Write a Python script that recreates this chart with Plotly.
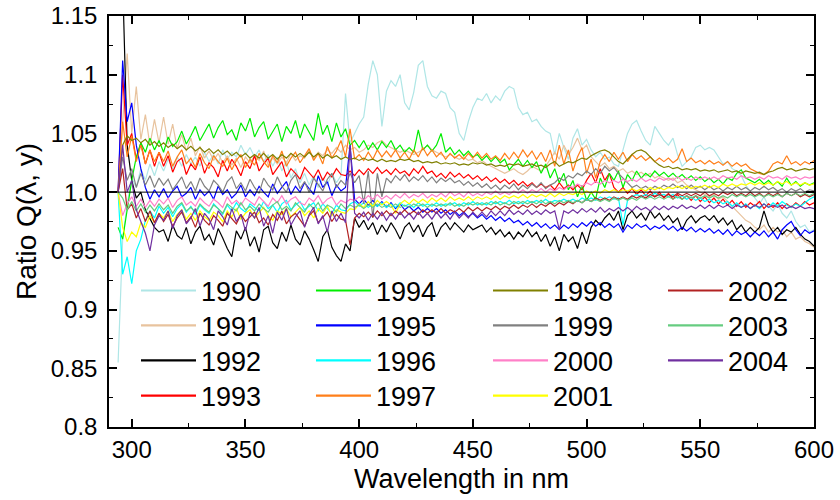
import plotly.graph_objects as go

# Wavelength grid (nm), 2 nm step from 294 to 600
wavelength = list(range(294, 601, 2))

years = ["1990", "1991", "1992", "1993", "1994", "1995", "1996", "1997",
         "1998", "1999", "2000", "2001", "2002", "2003", "2004"]
colors = ["#afe6e6", "#e8c39e", "#000000", "#ff0000", "#00ee00", "#0000ff",
          "#00ffff", "#ff7f1a", "#808000", "#808080", "#ff80c8", "#ffff00",
          "#b22222", "#66cc80", "#7030a0"]

x_tickvals = [300, 350, 400, 450, 500, 550, 600]
x_ticktext = ["300", "350", "400", "450", "500", "550", "600"]
y_tickvals = [0.8, 0.85, 0.9, 0.95, 1.0, 1.05, 1.1, 1.15]
y_ticktext = ["0.8", "0.85", "0.9", "0.95", "1.0", "1.05", "1.1", "1.15"]

q1990 = [0.855, 0.960, 0.990, 1.012, 1.004, 1.020, 1.010, 1.024, 1.014, 1.026,
         1.018, 1.028, 1.020, 1.030, 1.022, 1.032, 1.024, 1.030, 1.022, 1.034,
         1.026, 1.032, 1.024, 1.036, 1.028, 1.034, 1.030, 1.040, 1.032, 1.038,
         1.030, 1.036, 1.026, 1.032, 1.022, 1.030, 1.018, 1.026, 1.012, 1.020,
         1.008, 1.016, 1.006, 1.014, 1.004, 1.012, 1.006, 1.016, 1.008, 1.014,
         1.084, 1.042, 1.050, 1.058, 1.064, 1.092, 1.112, 1.100, 1.056, 1.086,
         1.095, 1.090, 1.100, 1.076, 1.070, 1.085, 1.108, 1.112, 1.090, 1.082,
         1.080, 1.086, 1.084, 1.072, 1.068, 1.050, 1.044, 1.060, 1.072, 1.080,
         1.078, 1.084, 1.076, 1.082, 1.078, 1.086, 1.090, 1.088, 1.072, 1.066,
         1.068, 1.060, 1.062, 1.056, 1.052, 1.050, 1.032, 1.050, 1.038, 1.028,
         1.046, 1.054, 1.040, 1.045, 1.036, 1.030, 1.034, 1.028, 1.030, 1.024,
         1.022, 1.036, 1.050, 1.058, 1.061, 1.052, 1.044, 1.040, 1.056, 1.050,
         1.044, 1.040, 1.046, 1.032, 1.022, 1.026, 1.030, 1.038, 1.040, 1.036,
         1.038, 1.036, 1.030, 1.024, 1.026, 1.020, 1.018, 1.014, 1.006, 1.000,
         0.995, 0.990, 0.996, 0.988, 0.984, 0.990, 0.982, 0.978, 0.984, 0.975,
         0.970, 0.972, 0.966, 0.968]

q1991 = [1.000, 1.060, 1.118, 1.050, 1.090, 1.045, 1.066, 1.040, 1.062, 1.042,
         1.064, 1.041, 1.058, 1.037, 1.049, 1.035, 1.046, 1.031, 1.039, 1.029,
         1.035, 1.027, 1.033, 1.025, 1.031, 1.023, 1.029, 1.021, 1.030, 1.025,
         1.031, 1.027, 1.035, 1.023, 1.029, 1.024, 1.030, 1.025, 1.033, 1.027,
         1.031, 1.029, 1.036, 1.028, 1.034, 1.031, 1.036, 1.033, 1.038, 1.034,
         1.040, 1.036, 1.038, 1.034, 1.036, 1.040, 1.038, 1.042, 1.044, 1.040,
         1.038, 1.036, 1.034, 1.036, 1.034, 1.032, 1.034, 1.036, 1.040, 1.036,
         1.034, 1.032, 1.030, 1.032, 1.030, 1.028, 1.030, 1.027, 1.028, 1.025,
         1.027, 1.024, 1.022, 1.020, 1.018, 1.016, 1.018, 1.020, 1.017, 1.015,
         1.018, 1.022, 1.020, 1.018, 1.022, 1.028, 1.034, 1.028, 1.040, 1.032,
         1.038, 1.046, 1.036, 1.040, 1.030, 1.026, 1.022, 1.025, 1.020, 1.022,
         1.018, 1.020, 1.016, 1.018, 1.015, 1.017, 1.014, 1.016, 1.012, 1.014,
         1.012, 1.010, 1.012, 1.008, 1.010, 1.006, 1.004, 1.002, 1.000, 0.998,
         0.996, 0.998, 0.994, 0.996, 0.992, 0.988, 0.984, 0.980, 0.976, 0.974,
         0.970, 0.968, 0.972, 0.966, 0.970, 0.966, 0.968, 0.962, 0.966, 0.960,
         0.962, 0.958, 0.956, 0.953]

q1992 = [1.200, 1.180, 1.040, 1.010, 0.995, 1.000, 0.985, 0.978, 0.970, 0.966,
         0.968, 0.958, 0.972, 0.963, 0.960, 0.970, 0.956, 0.966, 0.971, 0.959,
         0.964, 0.955, 0.969, 0.961, 0.952, 0.945, 0.967, 0.960, 0.970, 0.954,
         0.962, 0.949, 0.968, 0.971, 0.957, 0.952, 0.966, 0.958, 0.972, 0.960,
         0.955, 0.967, 0.960, 0.951, 0.941, 0.962, 0.968, 0.953, 0.946, 0.941,
         0.956, 0.950, 0.978, 0.970, 0.976, 0.968, 0.974, 0.964, 0.972, 0.966,
         0.974, 0.968, 0.960, 0.970, 0.974, 0.966, 0.972, 0.962, 0.970, 0.974,
         0.962, 0.970, 0.974, 0.968, 0.974, 0.970, 0.966, 0.972, 0.968, 0.970,
         0.972, 0.966, 0.970, 0.964, 0.968, 0.962, 0.966, 0.960, 0.966, 0.962,
         0.968, 0.962, 0.966, 0.958, 0.964, 0.954, 0.962, 0.950, 0.964, 0.958,
         0.962, 0.952, 0.966, 0.956, 0.970, 0.976, 0.972, 0.978, 0.982, 0.976,
         0.984, 0.968, 0.980, 0.984, 0.978, 0.982, 0.976, 0.984, 0.978, 0.982,
         0.976, 0.980, 0.974, 0.978, 0.968, 0.976, 0.980, 0.974, 0.978, 0.980,
         0.976, 0.980, 0.974, 0.978, 0.972, 0.976, 0.968, 0.972, 0.966, 0.970,
         0.966, 0.970, 0.984, 0.972, 0.966, 0.970, 0.964, 0.968, 0.966, 0.970,
         0.964, 0.960, 0.958, 0.954]

q1993 = [1.000, 1.100, 1.040, 1.050, 1.028, 1.042, 1.024, 1.036, 1.022, 1.034,
         1.022, 1.031, 1.017, 1.026, 1.029, 1.015, 1.024, 1.019, 1.030, 1.016,
         1.025, 1.021, 1.013, 1.027, 1.018, 1.028, 1.022, 1.014, 1.026, 1.020,
         1.031, 1.018, 1.024, 1.029, 1.015, 1.021, 1.026, 1.013, 1.020, 1.016,
         1.011, 1.021, 1.016, 1.012, 1.019, 1.010, 1.017, 1.013, 1.020, 1.015,
         1.014, 1.018, 1.014, 1.019, 1.015, 1.020, 1.016, 1.021, 1.016, 1.019,
         1.015, 1.020, 1.016, 1.018, 1.014, 1.020, 1.016, 1.022, 1.016, 1.018,
         1.013, 1.016, 1.012, 1.017, 1.013, 1.016, 1.012, 1.015, 1.011, 1.014,
         1.010, 1.013, 1.009, 1.012, 1.008, 1.011, 1.007, 1.010, 1.006, 1.009,
         1.005, 1.008, 1.004, 1.007, 1.004, 1.006, 1.002, 1.008, 1.003, 1.006,
         1.002, 1.006, 1.002, 1.010, 1.016, 1.008, 1.020, 1.010, 1.016, 1.004,
         1.000, 1.004, 0.999, 1.003, 0.998, 1.002, 0.997, 1.001, 0.996, 1.000,
         0.995, 0.999, 0.994, 0.998, 0.994, 0.997, 0.993, 0.997, 0.992, 0.996,
         0.991, 0.995, 0.990, 0.994, 0.989, 0.993, 0.988, 0.992, 0.987, 0.991,
         0.988, 0.992, 0.986, 0.990, 0.987, 0.991, 0.986, 0.990, 0.987, 0.991,
         0.988, 0.992, 0.989, 0.991]

q1994 = [0.970, 0.960, 0.985, 1.010, 1.030, 1.042, 1.034, 1.046, 1.036, 1.044,
         1.034, 1.047, 1.039, 1.043, 1.052, 1.041, 1.048, 1.056, 1.044, 1.051,
         1.058, 1.046, 1.055, 1.061, 1.049, 1.053, 1.044, 1.059, 1.052, 1.063,
         1.047, 1.055, 1.060, 1.045, 1.052, 1.058, 1.043, 1.056, 1.050, 1.061,
         1.046, 1.058, 1.051, 1.044, 1.067, 1.049, 1.057, 1.043, 1.059, 1.047,
         1.054, 1.040, 1.044, 1.038, 1.044, 1.036, 1.042, 1.036, 1.043, 1.038,
         1.044, 1.036, 1.040, 1.034, 1.038, 1.034, 1.053, 1.036, 1.040, 1.035,
         1.040, 1.050, 1.034, 1.038, 1.032, 1.036, 1.031, 1.035, 1.030, 1.032,
         1.027, 1.031, 1.026, 1.030, 1.025, 1.028, 1.019, 1.024, 1.028, 1.022,
         1.027, 1.021, 1.026, 1.016, 1.024, 1.012, 1.020, 1.008, 1.016, 1.002,
         1.010, 0.996, 1.006, 0.993, 1.000, 0.994, 1.012, 1.004, 1.016, 1.010,
         1.018, 1.004, 1.015, 1.010, 1.018, 1.012, 1.016, 1.013, 1.018, 1.014,
         1.017, 1.013, 1.016, 1.012, 1.015, 1.011, 1.014, 1.010, 1.013, 1.009,
         1.012, 1.008, 1.011, 1.007, 1.012, 1.010, 1.016, 1.019, 1.012, 1.010,
         1.008, 1.011, 1.007, 1.010, 1.006, 1.009, 1.005, 1.012, 1.006, 1.009,
         1.005, 1.008, 1.006, 1.008]

q1995 = [1.000, 1.112, 1.060, 1.076, 1.040, 1.020, 1.004, 0.994, 1.002, 0.996,
         1.003, 0.995, 1.001, 1.005, 0.996, 0.999, 1.004, 0.994, 1.002, 0.997,
         1.001, 0.994, 1.005, 0.998, 1.002, 0.995, 0.999, 1.006, 0.996, 1.002,
         0.997, 1.005, 1.000, 0.996, 1.007, 0.999, 1.004, 1.009, 0.998, 1.005,
         1.000, 1.008, 1.003, 0.998, 1.014, 1.004, 1.009, 0.997, 1.006, 1.001,
         1.004, 1.040, 0.994, 0.990, 0.994, 0.989, 0.993, 0.988, 0.992, 0.987,
         0.991, 0.986, 0.990, 0.985, 0.988, 0.984, 0.987, 0.983, 0.986, 0.983,
         0.986, 0.982, 0.985, 0.981, 0.984, 0.980, 0.983, 0.979, 0.982, 0.978,
         0.981, 0.977, 0.980, 0.976, 0.979, 0.975, 0.978, 0.974, 0.976, 0.972,
         0.975, 0.971, 0.974, 0.970, 0.973, 0.969, 0.972, 0.968, 0.972, 0.969,
         0.973, 0.970, 0.974, 0.971, 0.975, 0.971, 0.974, 0.970, 0.973, 0.970,
         0.973, 0.966, 0.972, 0.969, 0.973, 0.970, 0.972, 0.968, 0.971, 0.969,
         0.972, 0.968, 0.971, 0.967, 0.970, 0.967, 0.970, 0.966, 0.969, 0.966,
         0.969, 0.965, 0.968, 0.964, 0.968, 0.963, 0.967, 0.964, 0.966, 0.962,
         0.966, 0.963, 0.967, 0.962, 0.966, 0.960, 0.968, 0.972, 0.975, 0.968,
         0.963, 0.968, 0.965, 0.967]

q1996 = [1.000, 0.930, 0.945, 0.922, 0.950, 0.960, 0.976, 0.984, 0.978, 0.988,
         0.982, 0.987, 0.979, 0.986, 0.990, 0.983, 0.988, 0.981, 0.989, 0.985,
         0.982, 0.990, 0.986, 0.981, 0.989, 0.984, 0.991, 0.986, 0.983, 0.990,
         0.987, 0.984, 0.992, 0.986, 0.989, 0.983, 0.990, 0.993, 0.985, 0.989,
         0.992, 0.985, 0.988, 0.991, 0.984, 0.990, 0.986, 0.982, 0.989, 0.985,
         0.984, 0.990, 0.992, 0.988, 0.991, 0.987, 0.990, 0.988, 0.991, 0.987,
         0.990, 0.987, 0.991, 0.988, 0.990, 0.987, 0.991, 0.988, 0.990, 0.988,
         0.991, 0.988, 0.990, 0.989, 0.991, 0.988, 0.991, 0.989, 0.992, 0.989,
         0.991, 0.989, 0.992, 0.990, 0.992, 0.990, 0.993, 0.990, 0.992, 0.990,
         0.993, 0.991, 0.993, 0.991, 0.994, 0.991, 0.993, 0.992, 0.994, 0.992,
         0.994, 0.992, 0.995, 0.993, 0.995, 0.993, 0.996, 0.994, 0.996, 0.994,
         0.995, 0.972, 0.993, 0.996, 0.998, 0.996, 0.998, 0.996, 0.999, 0.997,
         0.998, 0.996, 0.998, 0.995, 0.997, 0.994, 0.996, 0.993, 0.995, 0.992,
         0.994, 0.991, 0.993, 0.990, 0.992, 0.988, 0.991, 0.987, 0.990, 0.986,
         0.989, 0.986, 0.990, 0.987, 0.991, 0.988, 0.992, 0.989, 0.987, 0.990,
         0.988, 0.991, 0.994, 0.996]

q1997 = [1.000, 1.060, 1.030, 1.048, 1.026, 1.040, 1.024, 1.036, 1.026, 1.034,
         1.026, 1.035, 1.022, 1.030, 1.036, 1.024, 1.029, 1.021, 1.033, 1.025,
         1.020, 1.031, 1.026, 1.022, 1.029, 1.019, 1.027, 1.032, 1.021, 1.028,
         1.023, 1.033, 1.026, 1.021, 1.031, 1.025, 1.035, 1.022, 1.029, 1.034,
         1.025, 1.031, 1.037, 1.027, 1.033, 1.024, 1.039, 1.029, 1.035, 1.044,
         1.030, 1.054, 1.028, 1.032, 1.027, 1.034, 1.028, 1.036, 1.030, 1.035,
         1.030, 1.036, 1.029, 1.034, 1.028, 1.036, 1.030, 1.038, 1.031, 1.036,
         1.030, 1.034, 1.028, 1.033, 1.029, 1.032, 1.028, 1.033, 1.029, 1.034,
         1.029, 1.033, 1.028, 1.031, 1.027, 1.033, 1.028, 1.034, 1.029, 1.036,
         1.030, 1.035, 1.028, 1.034, 1.026, 1.036, 1.022, 1.040, 1.024, 1.036,
         1.018, 1.030, 1.038, 1.016, 1.028, 1.012, 1.026, 1.032, 1.026, 1.034,
         1.028, 1.034, 1.026, 1.032, 1.028, 1.031, 1.027, 1.030, 1.026, 1.029,
         1.026, 1.029, 1.025, 1.028, 1.037, 1.026, 1.029, 1.025, 1.027, 1.024,
         1.027, 1.024, 1.026, 1.023, 1.026, 1.022, 1.025, 1.022, 1.024, 1.020,
         1.018, 1.016, 1.015, 1.018, 1.024, 1.026, 1.024, 1.031, 1.024, 1.026,
         1.023, 1.026, 1.024, 1.027]

q1998 = [1.000, 1.040, 1.048, 1.044, 1.046, 1.042, 1.045, 1.040, 1.043, 1.039,
         1.042, 1.038, 1.041, 1.037, 1.040, 1.036, 1.039, 1.035, 1.038, 1.034,
         1.037, 1.033, 1.036, 1.032, 1.035, 1.031, 1.034, 1.030, 1.033, 1.029,
         1.032, 1.029, 1.033, 1.029, 1.032, 1.028, 1.032, 1.029, 1.033, 1.030,
         1.033, 1.030, 1.034, 1.030, 1.033, 1.029, 1.032, 1.029, 1.031, 1.028,
         1.030, 1.028, 1.029, 1.027, 1.029, 1.027, 1.028, 1.026, 1.028, 1.026,
         1.027, 1.026, 1.028, 1.027, 1.028, 1.026, 1.027, 1.025, 1.026, 1.025,
         1.026, 1.024, 1.025, 1.024, 1.025, 1.023, 1.024, 1.023, 1.025, 1.024,
         1.025, 1.023, 1.024, 1.022, 1.023, 1.022, 1.024, 1.023, 1.024, 1.022,
         1.023, 1.024, 1.022, 1.023, 1.021, 1.024, 1.026, 1.022, 1.024, 1.026,
         1.025, 1.027, 1.029, 1.028, 1.031, 1.033, 1.035, 1.036, 1.034, 1.030,
         1.026, 1.024, 1.028, 1.032, 1.035, 1.036, 1.034, 1.030, 1.026, 1.023,
         1.021, 1.022, 1.020, 1.021, 1.019, 1.020, 1.019, 1.020, 1.018, 1.019,
         1.018, 1.019, 1.017, 1.018, 1.019, 1.017, 1.018, 1.016, 1.018, 1.017,
         1.016, 1.017, 1.015, 1.017, 1.018, 1.020, 1.021, 1.019, 1.020, 1.018,
         1.019, 1.020, 1.019, 1.020]

q1999 = [1.000, 1.030, 1.010, 1.020, 1.004, 1.016, 1.006, 1.014, 1.004, 1.012,
         1.006, 1.011, 1.002, 1.008, 1.013, 1.003, 1.009, 1.001, 1.012, 1.005,
         1.001, 1.010, 1.006, 1.000, 1.009, 1.013, 1.003, 1.008, 1.001, 1.011,
         1.004, 0.999, 1.012, 1.006, 1.002, 1.013, 1.005, 1.000, 1.010, 1.015,
         1.003, 1.009, 1.000, 1.012, 1.006, 1.001, 1.011, 1.016, 1.004, 1.010,
         1.006, 1.016, 1.008, 1.014, 0.990, 1.018, 0.978, 1.016, 0.996, 1.012,
         1.008, 1.014, 1.010, 1.015, 1.009, 1.013, 1.010, 1.014, 1.009, 1.013,
         1.008, 1.012, 1.009, 1.012, 1.008, 1.010, 1.006, 1.009, 1.005, 1.008,
         1.004, 1.007, 1.003, 1.006, 1.002, 1.006, 1.003, 1.007, 1.002, 1.006,
         1.003, 1.007, 1.004, 1.008, 1.003, 1.006, 1.008, 1.012, 1.010, 1.014,
         1.012, 1.016, 1.014, 1.018, 1.015, 1.020, 1.016, 1.022, 1.018, 1.021,
         1.016, 1.012, 1.008, 1.004, 1.006, 1.003, 1.005, 1.002, 1.005, 1.003,
         1.006, 1.004, 1.007, 1.004, 1.006, 1.003, 1.006, 1.003, 1.005, 1.002,
         1.005, 1.002, 1.004, 1.001, 1.004, 1.002, 1.005, 1.002, 1.004, 1.001,
         1.004, 1.002, 1.005, 1.002, 1.004, 1.001, 1.003, 1.000, 1.003, 1.001,
         1.003, 1.000, 1.002, 1.001]

q2000 = [1.000, 0.980, 0.990, 0.996, 0.988, 0.994, 0.987, 0.993, 0.988, 0.994,
         0.990, 0.995, 0.987, 0.993, 0.996, 0.989, 0.992, 0.988, 0.995, 0.991,
         0.988, 0.994, 0.991, 0.987, 0.996, 0.990, 0.993, 0.989, 0.995, 0.992,
         0.989, 0.996, 0.992, 0.988, 0.995, 0.991, 0.997, 0.990, 0.994, 0.996,
         0.991, 0.989, 0.995, 0.992, 0.997, 0.990, 0.994, 0.996, 0.989, 0.993,
         0.991, 0.994, 0.993, 0.996, 0.993, 0.997, 0.994, 0.998, 0.994, 0.997,
         0.994, 0.998, 0.995, 0.999, 0.995, 0.998, 0.996, 0.999, 0.995, 0.998,
         0.996, 0.999, 0.996, 1.000, 0.997, 0.999, 0.996, 1.000, 0.997, 0.999,
         0.997, 1.000, 0.998, 1.001, 0.998, 1.000, 0.998, 1.001, 0.999, 1.002,
         0.999, 1.002, 1.000, 1.003, 1.000, 1.003, 1.001, 1.004, 1.002, 1.005,
         1.004, 1.007, 1.005, 1.008, 1.006, 1.009, 1.007, 1.010, 1.008, 1.010,
         1.008, 1.011, 1.009, 1.011, 1.009, 1.012, 1.009, 1.011, 1.009, 1.012,
         1.010, 1.012, 1.010, 1.013, 1.010, 1.012, 1.010, 1.013, 1.011, 1.013,
         1.011, 1.013, 1.011, 1.014, 1.012, 1.013, 1.011, 1.014, 1.012, 1.013,
         1.011, 1.013, 1.011, 1.014, 1.012, 1.013, 1.011, 1.014, 1.012, 1.013,
         1.011, 1.013, 1.012, 1.013]

q2001 = [1.000, 0.970, 0.958, 0.966, 0.962, 0.974, 0.970, 0.980, 0.974, 0.982,
         0.978, 0.984, 0.975, 0.981, 0.985, 0.977, 0.982, 0.976, 0.984, 0.979,
         0.976, 0.983, 0.980, 0.975, 0.984, 0.979, 0.986, 0.977, 0.982, 0.985,
         0.978, 0.983, 0.987, 0.980, 0.976, 0.984, 0.981, 0.986, 0.979, 0.983,
         0.987, 0.980, 0.984, 0.978, 0.986, 0.982, 0.988, 0.980, 0.985, 0.983,
         0.982, 0.986, 0.985, 0.990, 0.987, 0.992, 0.988, 0.993, 0.989, 0.992,
         0.989, 0.982, 0.990, 0.993, 0.990, 0.994, 0.991, 0.994, 0.991, 0.995,
         0.992, 0.995, 0.992, 0.996, 0.993, 0.995, 0.993, 0.996, 0.993, 0.996,
         0.994, 0.996, 0.994, 0.997, 0.994, 0.997, 0.995, 0.997, 0.995, 0.998,
         0.995, 0.998, 0.996, 0.998, 0.996, 0.999, 0.996, 0.999, 0.997, 0.999,
         0.998, 1.000, 0.998, 1.001, 0.999, 1.001, 0.999, 1.002, 1.000, 1.002,
         1.000, 1.002, 1.001, 1.003, 1.001, 1.003, 1.001, 1.004, 1.002, 1.004,
         1.002, 1.004, 1.003, 1.005, 1.003, 1.005, 1.003, 1.005, 1.004, 1.006,
         1.004, 1.006, 1.004, 1.007, 1.005, 1.007, 1.005, 1.007, 1.006, 1.008,
         1.006, 1.008, 1.006, 1.008, 1.006, 1.009, 1.007, 1.009, 1.006, 1.008,
         1.006, 1.008, 1.006, 1.007]

q2002 = [1.000, 1.020, 0.985, 0.990, 0.978, 0.986, 0.975, 0.984, 0.974, 0.982,
         0.975, 0.981, 0.971, 0.978, 0.983, 0.974, 0.979, 0.970, 0.982, 0.976,
         0.972, 0.980, 0.976, 0.971, 0.982, 0.977, 0.973, 0.981, 0.975, 0.979,
         0.983, 0.974, 0.978, 0.972, 0.981, 0.976, 0.984, 0.973, 0.979, 0.982,
         0.976, 0.971, 0.980, 0.984, 0.974, 0.979, 0.983, 0.975, 0.981, 0.977,
         0.976, 0.955, 0.978, 0.982, 0.979, 0.983, 0.979, 0.984, 0.980, 0.984,
         0.980, 0.984, 0.981, 0.985, 0.981, 0.984, 0.981, 0.985, 0.982, 0.985,
         0.982, 0.986, 0.982, 0.985, 0.983, 0.986, 0.983, 0.987, 0.984, 0.987,
         0.984, 0.987, 0.985, 0.988, 0.985, 0.988, 0.986, 0.989, 0.986, 0.989,
         0.987, 0.990, 0.987, 0.990, 0.988, 0.991, 0.988, 0.991, 0.989, 0.992,
         0.990, 0.993, 0.991, 0.994, 0.992, 0.995, 0.993, 0.995, 0.993, 0.996,
         0.994, 0.996, 0.994, 0.997, 0.995, 0.997, 0.995, 0.998, 0.996, 0.998,
         0.996, 0.998, 0.996, 0.999, 0.997, 0.999, 0.997, 0.999, 0.997, 1.000,
         0.997, 0.999, 0.997, 1.000, 0.998, 1.000, 0.997, 0.999, 0.997, 1.000,
         0.997, 0.999, 0.996, 0.999, 0.997, 0.999, 0.996, 0.999, 0.997, 0.999,
         0.996, 0.998, 0.996, 0.998]

q2003 = [1.000, 0.995, 0.985, 0.992, 0.984, 0.990, 0.983, 0.989, 0.984, 0.990,
         0.985, 0.989, 0.982, 0.988, 0.991, 0.984, 0.987, 0.983, 0.990, 0.986,
         0.983, 0.989, 0.986, 0.982, 0.990, 0.987, 0.984, 0.991, 0.985, 0.988,
         0.984, 0.990, 0.986, 0.983, 0.989, 0.992, 0.985, 0.988, 0.984, 0.991,
         0.987, 0.983, 0.990, 0.986, 0.991, 0.984, 0.989, 0.987, 0.983, 0.990,
         0.986, 0.989, 0.987, 0.989, 0.986, 0.989, 0.987, 0.990, 0.987, 0.989,
         0.987, 0.990, 0.987, 0.989, 0.987, 0.990, 0.988, 0.990, 0.987, 0.990,
         0.988, 0.990, 0.988, 0.991, 0.988, 0.990, 0.988, 0.991, 0.989, 0.991,
         0.989, 0.991, 0.989, 0.992, 0.989, 0.991, 0.989, 0.992, 0.990, 0.992,
         0.990, 0.992, 0.990, 0.993, 0.990, 0.992, 0.990, 0.993, 0.991, 0.993,
         0.991, 0.993, 0.991, 0.994, 0.992, 0.994, 0.992, 0.994, 0.992, 0.995,
         0.993, 0.995, 0.993, 0.995, 0.993, 0.996, 0.994, 0.996, 0.994, 0.996,
         0.994, 0.996, 0.994, 0.996, 0.994, 0.997, 0.995, 0.997, 0.995, 0.997,
         0.995, 0.997, 0.995, 0.997, 0.995, 0.998, 0.996, 0.998, 0.996, 0.998,
         0.996, 0.998, 0.996, 0.998, 0.996, 0.998, 0.996, 0.999, 0.997, 0.999,
         0.997, 0.999, 0.997, 0.999]

q2004 = [1.000, 1.040, 1.000, 1.010, 0.985, 0.975, 0.965, 0.950, 0.972, 0.980,
         0.976, 0.984, 0.969, 0.980, 0.985, 0.973, 0.978, 0.986, 0.971, 0.982,
         0.977, 0.968, 0.984, 0.979, 0.972, 0.986, 0.975, 0.981, 0.967, 0.983,
         0.978, 0.987, 0.971, 0.980, 0.965, 0.983, 0.976, 0.986, 0.972, 0.979,
         0.984, 0.970, 0.981, 0.987, 0.973, 0.980, 0.966, 0.984, 0.975, 0.982,
         0.974, 1.040, 0.982, 0.978, 0.983, 0.976, 0.982, 0.977, 0.983, 0.976,
         0.982, 0.977, 0.983, 0.978, 0.982, 0.977, 0.983, 0.978, 0.982, 0.977,
         0.983, 0.978, 0.982, 0.977, 0.983, 0.978, 0.982, 0.978, 0.983, 0.979,
         0.983, 0.979, 0.984, 0.980, 0.984, 0.980, 0.985, 0.981, 0.984, 0.981,
         0.985, 0.981, 0.984, 0.981, 0.985, 0.982, 0.984, 0.968, 0.984, 0.982,
         0.985, 0.982, 0.986, 0.983, 0.986, 0.983, 0.987, 0.983, 0.986, 0.984,
         0.987, 0.984, 0.987, 0.984, 0.988, 0.985, 0.987, 0.984, 0.988, 0.985,
         0.988, 0.985, 0.988, 0.986, 0.989, 0.986, 0.988, 0.986, 0.989, 0.986,
         0.989, 0.986, 0.989, 0.987, 0.989, 0.986, 0.989, 0.987, 0.989, 0.986,
         0.989, 0.987, 0.990, 0.987, 0.989, 0.987, 0.989, 0.986, 0.988, 0.986,
         0.988, 0.986, 0.987, 0.986]

series = [q1990, q1991, q1992, q1993, q1994, q1995, q1996, q1997,
          q1998, q1999, q2000, q2001, q2002, q2003, q2004]
for name, s in zip(years, series):
    assert len(s) == len(wavelength), (name, len(s), len(wavelength))

FONT = "Liberation Sans, Arial, sans-serif"

fig = go.Figure()
# data curves
for name, s, c in zip(years, series, colors):
    fig.add_trace(go.Scatter(
        x=wavelength, y=s, mode="lines", name=name,
        line=dict(color=c, width=1.2), showlegend=False,
    ))

# legend: 4 columns x 4 rows (column-major), one small legend per entry
col_x = [0.0383, 0.2865, 0.5376, 0.7858]
row_y = [0.331, 0.246, 0.161, 0.075]
legend_layout = {}
for i, (name, c) in enumerate(zip(years, colors)):
    lid = "legend" if i == 0 else "legend%d" % (i + 1)
    fig.add_trace(go.Scatter(
        x=[None], y=[None], mode="lines", name=name,
        line=dict(color=c, width=2.2), showlegend=True,
        legend=lid, hoverinfo="skip",
    ))
    legend_layout[lid] = dict(
        font=dict(family=FONT, size=27, color="black"),
        bgcolor="rgba(0,0,0,0)", borderwidth=0,
        orientation="v", xanchor="left", yanchor="middle",
        x=col_x[i // 4], y=row_y[i % 4], itemwidth=55,
    )

fig.add_shape(type="line", xref="paper", yref="y", x0=0, x1=1, y0=1.0, y1=1.0,
              line=dict(color="black", width=1), layer="above")

fig.add_annotation(text="Wavelength in nm", xref="paper", yref="paper",
                   x=0.5, y=-0.127, xanchor="center", yanchor="middle",
                   showarrow=False, font=dict(family=FONT, size=27, color="black"))

fig.update_layout(
    width=840, height=500,
    margin=dict(l=109, r=26, t=16, b=73),
    paper_bgcolor="white", plot_bgcolor="white",
    font=dict(family=FONT, size=24, color="black"),
    showlegend=True,
    **legend_layout,
    xaxis=dict(
        range=[290, 600], tickvals=x_tickvals, ticktext=x_ticktext,
        automargin=False,
        showline=True, linecolor="black", linewidth=1.5, mirror="allticks",
        ticks="inside", ticklen=8, tickwidth=1.5, tickcolor="black",
        minor=dict(dtick=25, tick0=300, ticks="inside", ticklen=4, tickwidth=1.2,
                   tickcolor="black", showgrid=False),
        showgrid=False, zeroline=False, ticklabelstandoff=0,
        tickfont=dict(family=FONT, size=24),
    ),
    yaxis=dict(
        range=[0.8, 1.15], tickvals=y_tickvals, ticktext=y_ticktext,
        automargin=False,
        showline=True, linecolor="black", linewidth=1.5, mirror="allticks",
        ticks="inside", ticklen=8, tickwidth=1.5, tickcolor="black",
        minor=dict(dtick=0.025, tick0=0.8, ticks="inside", ticklen=4, tickwidth=1.2,
                   tickcolor="black", showgrid=False),
        showgrid=False, zeroline=False, ticklabelstandoff=5,
        tickfont=dict(family=FONT, size=24),
        title=dict(text="Ratio Q(λ, y)", font=dict(family=FONT, size=28), standoff=6),
    ),
)

fig.write_html("out.html", config={"displayModeBar": False},
               post_script="document.body.style.margin='0px';document.body.style.padding='0px';")
